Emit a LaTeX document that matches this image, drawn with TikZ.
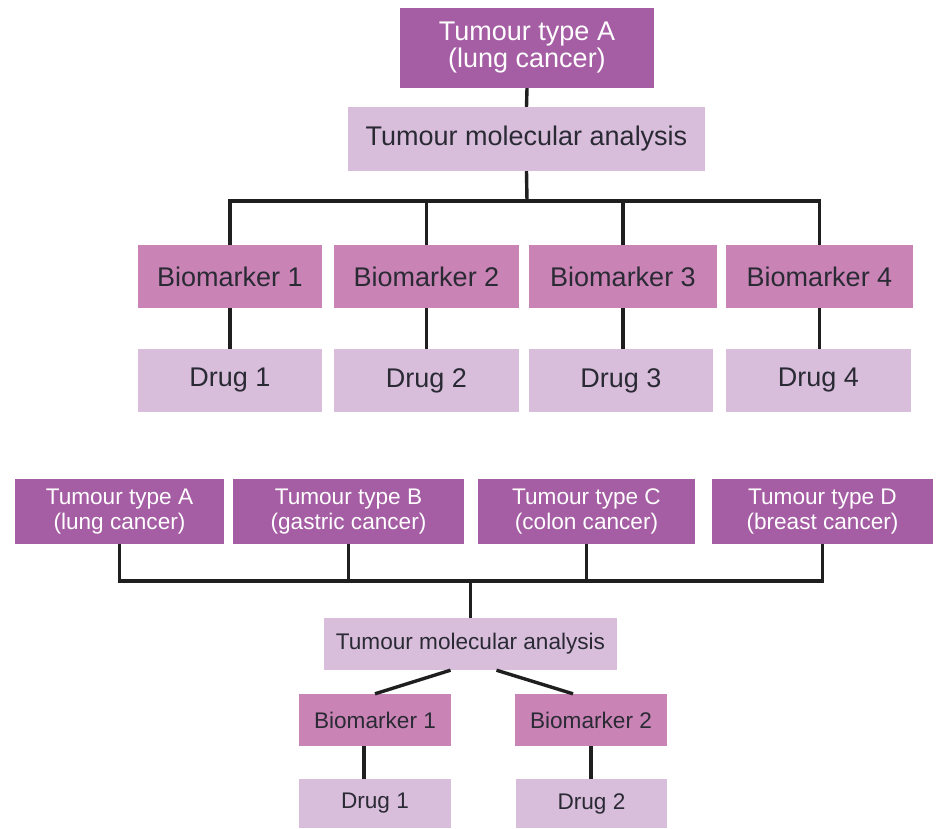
\documentclass[tikz,border=0pt]{standalone}
\usepackage{fontspec}
\setmainfont{Liberation Sans}
\definecolor{tpurple}{HTML}{A55DA4}
\definecolor{tpink}{HTML}{C984B5}
\definecolor{tlight}{HTML}{D9BEDC}
\definecolor{tdark}{HTML}{2A2A35}
\begin{document}
\begin{tikzpicture}[x=1pt,y=-1pt,
  box/.style={rectangle, inner sep=0pt, align=center},
  big/.style={font=\fontsize{27}{27}\selectfont},
  small/.style={font=\fontsize{22.6}{25}\selectfont},
  tumour/.style={box, fill=tpurple, text=white},
  marker/.style={box, fill=tpink, text=tdark},
  analysis/.style={box, fill=tlight, text=tdark},
  link/.style={line width=3.4pt, draw=black!88, line join=miter}]
\useasboundingbox (0,0) rectangle (940,828);

% ---------- top panel ----------
\node[tumour,big,minimum width=254pt,minimum height=80pt] (tA) at (527,48) {Tumour type A\\(lung cancer)};
\node[analysis,big,minimum width=357pt,minimum height=64pt] (tma) at (526.5,139) {Tumour molecular analysis};

\node[marker,big,minimum width=184pt,minimum height=63pt] (bm1) at (230,276.5) {Biomarker 1};
\node[marker,big,minimum width=185pt,minimum height=63pt] (bm2) at (426.5,276.5) {Biomarker 2};
\node[marker,big,minimum width=188pt,minimum height=63pt] (bm3) at (623,276.5) {Biomarker 3};
\node[marker,big,minimum width=187pt,minimum height=63pt] (bm4) at (819.5,276.5) {Biomarker 4};

\node[analysis,big,minimum width=184pt,minimum height=63pt] (dr1) at (230,380.5) {Drug 1};
\node[analysis,big,minimum width=185pt,minimum height=63pt] (dr2) at (426.5,380.5) {Drug 2};
\node[analysis,big,minimum width=184pt,minimum height=63pt] (dr3) at (621,380.5) {Drug 3};
\node[analysis,big,minimum width=185pt,minimum height=63pt] (dr4) at (818.5,380.5) {Drug 4};

\coordinate (tbus) at (527,201);
\draw[link] (tA.south) -- (tma.north);
\draw[link] (tma.south) -- (tbus);
\draw[link] (bm1.north) |- (tbus) -| (bm4.north);
\draw[link] (bm2.north) -- (bm2.north |- tbus);
\draw[link] (bm3.north) -- (bm3.north |- tbus);
\draw[link] (bm1.south) -- (dr1.north);
\draw[link] (bm2.south) -- (dr2.north);
\draw[link] (bm3.south) -- (bm3.south |- dr3.north);
\draw[link] (bm4.south) -- (bm4.south |- dr4.north);

% ---------- bottom panel ----------
\node[tumour,small,minimum width=209pt,minimum height=65pt] (TA) at (119.5,511.5) {Tumour type A\\(lung cancer)};
\node[tumour,small,minimum width=231pt,minimum height=65pt] (TB) at (348.5,511.5) {Tumour type B\\(gastric cancer)};
\node[tumour,small,minimum width=217pt,minimum height=65pt] (TC) at (586.5,511.5) {Tumour type C\\(colon cancer)};
\node[tumour,small,minimum width=221pt,minimum height=65pt] (TD) at (822.5,511.5) {Tumour type D\\(breast cancer)};

\node[analysis,small,minimum width=293pt,minimum height=52pt] (bma) at (470.5,644) {Tumour molecular analysis};
\node[marker,small,minimum width=152pt,minimum height=52pt] (bb1) at (375,720) {Biomarker 1};
\node[marker,small,minimum width=152pt,minimum height=52pt] (bb2) at (591,720) {Biomarker 2};
\node[analysis,small,minimum width=152pt,minimum height=49pt] (bd1) at (375,803.5) {Drug 1};
\node[analysis,small,minimum width=151pt,minimum height=49pt] (bd2) at (591.5,803.5) {Drug 2};

\coordinate (bbus) at (470.5,581);
\draw[link] (TA.south) |- (bbus) -| (TD.south);
\draw[link] (TB.south) -- (TB.south |- bbus);
\draw[link] (TC.south) -- (TC.south |- bbus);
\draw[link] (bbus) -- (bma.north);
\draw[link] ([xshift=-20pt]bma.south) -- (bb1.north);
\draw[link] ([xshift=26pt]bma.south) -- ([xshift=-18pt]bb2.north);
\draw[link] ([xshift=-11pt]bb1.south) -- ([xshift=-11pt]bd1.north);
\draw[link] (bb2.south) -- (bb2.south |- bd2.north);
\end{tikzpicture}
\end{document}
